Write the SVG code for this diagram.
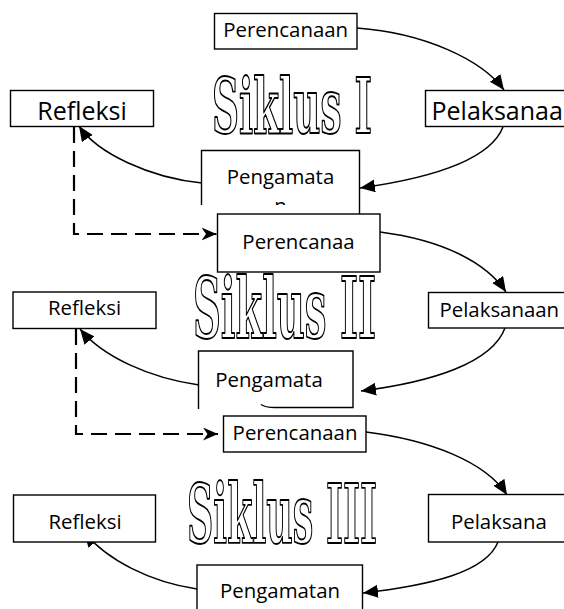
<svg xmlns="http://www.w3.org/2000/svg" width="564" height="609" viewBox="0 0 564 609">
<style>
.box{fill:#fff;stroke:#000;stroke-width:1.4}
.edge{fill:none;stroke:#000;stroke-width:1.4}
.lbl{font-family:"Open Sans","Noto Sans","Liberation Sans",sans-serif;font-size:20.4px;fill:#000;text-anchor:middle}
.big{font-size:25px}
.st{text-anchor:start}
.conn{fill:none;stroke:#000;stroke-width:1.5}
.dash{fill:none;stroke:#000;stroke-width:2.2;stroke-dasharray:16 8}
.sik{font-family:"DejaVu Serif Condensed","DejaVu Serif",serif;font-weight:bold;fill:#fff;stroke:#000;stroke-width:1.5;stroke-linejoin:round;vector-effect:non-scaling-stroke}
</style>
<defs>
<marker id="ah" markerUnits="userSpaceOnUse" markerWidth="16" markerHeight="14" viewBox="0 0 16 14" refX="15" refY="6.5" orient="auto">
<path d="M0,0 L15,6.5 L0,13 z" fill="#000"/>
</marker>
<marker id="stealth" markerUnits="userSpaceOnUse" markerWidth="16" markerHeight="14" viewBox="0 0 16 14" refX="15" refY="6.5" orient="auto">
<path d="M0,0 L15,6.5 L0,13 L4.5,6.5 z" fill="#000"/>
</marker>
<clipPath id="clipN"><rect x="190" y="140" width="180" height="65"/></clipPath>
</defs>

<g id="connectors">
<path class="conn" d="M357,28 C425,33 482,60 504,90" marker-end="url(#ah)"/>
<path class="conn" d="M503,127 C490,160 432,178 360,188" marker-end="url(#ah)"/>
<path class="conn" d="M202,183 C150,178 97,153 79,126" marker-end="url(#ah)"/>
<path class="dash" d="M74,127 V234 H216.5" marker-end="url(#stealth)"/>
<path class="conn" d="M380,232 C442,240 486,262 506,292" marker-end="url(#ah)"/>
<path class="conn" d="M505,328 C492,363 432,382 361,391" marker-end="url(#ah)"/>
<path class="conn" d="M199,385 C150,378 103,357 80,329" marker-end="url(#ah)"/>
<path class="dash" d="M76,329 V434 H218" marker-end="url(#stealth)"/>
<path class="conn" d="M366,432 C430,440 486,462 507,495" marker-end="url(#ah)"/>
<path class="conn" d="M498,542 C486,572 432,585 363,593" marker-end="url(#ah)"/>
<path class="conn" d="M197,589 C150,582 107,560 84,532" marker-end="url(#ah)"/>
</g>

<g id="title1"><text class="sik" transform="translate(212,133) scale(1,1.92)" x="0" y="0" font-size="40" textLength="160" lengthAdjust="spacingAndGlyphs">Siklus I</text></g>
<g id="title2"><text class="sik" transform="translate(193,338) scale(1,1.9)" x="0" y="0" font-size="44" textLength="183" lengthAdjust="spacingAndGlyphs">Siklus II</text></g>
<g id="title3"><text class="sik" transform="translate(187,543) scale(1,1.96)" x="0" y="0" font-size="42" textLength="190" lengthAdjust="spacingAndGlyphs">Siklus III</text></g>

<g id="perencanaan1"><rect class="box" x="214.5" y="13.5" width="142.5" height="35.5"/><text class="lbl" x="285.7" y="36.5">Perencanaan</text></g>
<g id="refleksi1"><rect class="box" x="10.5" y="90.5" width="143" height="36"/><text class="lbl big" x="82" y="119.5">Refleksi</text></g>
<g id="pelaksanaan1"><rect class="box" x="425.5" y="90.5" width="160" height="36"/><text class="lbl big st" x="431.5" y="119.5">Pelaksanaa</text></g>
<g id="pengamatan1"><path class="edge" d="M201.5,205 V150.5 H359.5 V214"/><text class="lbl" x="280.5" y="184">Pengamata</text><text class="lbl" x="280.5" y="213" clip-path="url(#clipN)">n</text></g>

<g id="perencanaan2"><rect class="box" x="217.5" y="214" width="162.5" height="58"/><text class="lbl" x="298.5" y="248.5">Perencanaa</text></g>
<g id="refleksi2"><rect class="box" x="13" y="292" width="143" height="36.5"/><text class="lbl" x="84.5" y="315" font-size="20">Refleksi</text></g>
<g id="pelaksanaan2"><rect class="box" x="428.5" y="292.5" width="160" height="35.5"/><text class="lbl st" x="439.5" y="316.5">Pelaksanaan</text></g>
<g id="pengamatan2"><path class="edge" d="M198.5,409 V351 H353 V407.5 H275 Q265,407.5 261,404.5"/><text class="lbl" x="269" y="387" font-size="19">Pengamata</text></g>

<g id="perencanaan3"><rect class="box" x="223.5" y="416" width="142.5" height="36"/><text class="lbl" x="295" y="440">Perencanaan</text></g>
<g id="refleksi3"><rect class="box" x="13.5" y="495" width="142" height="47"/><text class="lbl" x="85" y="529" font-size="20">Refleksi</text></g>
<g id="pelaksanaan3"><rect class="box" x="428.5" y="494.5" width="160" height="47.5"/><text class="lbl st" x="451" y="529">Pelaksana</text></g>
<g id="pengamatan3"><rect class="box" x="197" y="565" width="165.5" height="60"/><text class="lbl" x="280" y="597.5">Pengamatan</text></g>
</svg>
